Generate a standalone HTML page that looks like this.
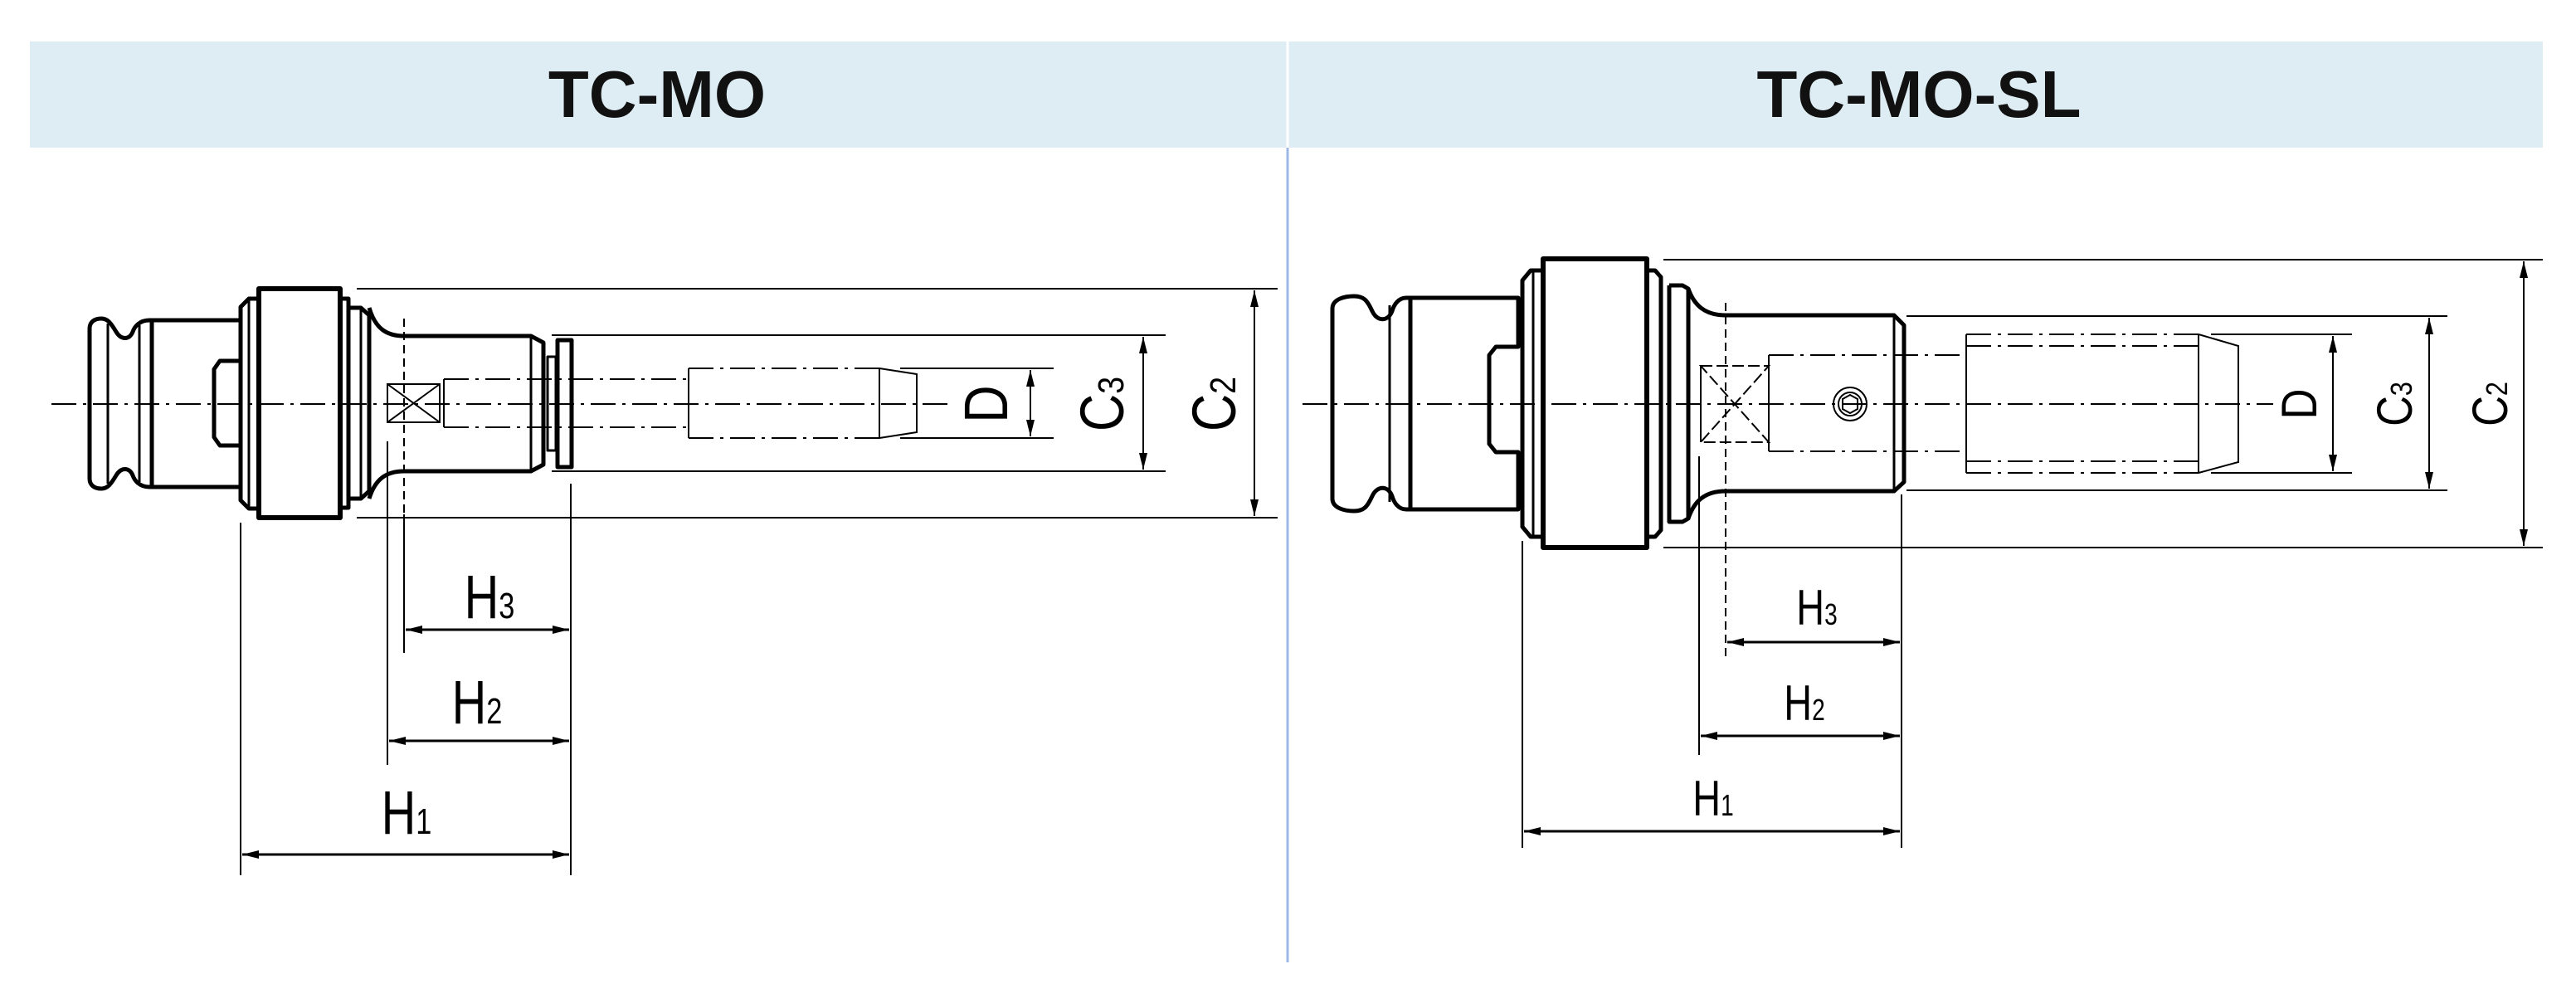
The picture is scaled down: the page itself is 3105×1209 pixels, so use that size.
<!DOCTYPE html>
<html><head><meta charset="utf-8"><style>
html,body{margin:0;padding:0;background:#fff;}
svg{display:block;}
text{font-family:"Liberation Sans Narrow","Liberation Sans",sans-serif;fill:#000;}
</style></head><body>
<svg width="3105" height="1209" viewBox="0 0 3105 1209" xmlns="http://www.w3.org/2000/svg">
<defs>
<marker id="a" viewBox="0 0 20 10" refX="20" refY="5" markerWidth="20" markerHeight="10" markerUnits="userSpaceOnUse" orient="auto-start-reverse"><path d="M0,0 L20,5 L0,10 z" fill="#000"/></marker>
</defs>
<rect x="36" y="50" width="3029" height="128" fill="#deedf4"/>
<line x1="1552" y1="50" x2="1552" y2="1160" stroke="#9db8e6" stroke-width="3"/>
<line x1="1552" y1="50" x2="1552" y2="178" stroke="#fff" stroke-width="3"/>
<text x="792" y="141" text-anchor="middle" style="font-family:'Liberation Sans',sans-serif;font-weight:bold;font-size:80px;fill:#111">TC-MO</text>
<text x="2313" y="141" text-anchor="middle" style="font-family:'Liberation Sans',sans-serif;font-weight:bold;font-size:80px;fill:#111">TC-MO-SL</text>

<!-- LEFT -->
<g fill="none" stroke="#000" stroke-width="5" stroke-linejoin="round">
<path d="M183,386 L180,386 C168,386 162,394 160,400 C156,410 146,410 140,400 C134,390 130,384 122,384 C114,384 108,388 108,396 L108,577 C108,585 114,589 122,589 C130,589 134,583 140,573 C146,563 156,563 160,573 C162,579 168,587 180,587 L183,587"/>
<line x1="130" y1="390" x2="130" y2="583" stroke-width="3"/>
<line x1="168" y1="392" x2="168" y2="581" stroke-width="3"/>
<path d="M183,386 L290,386 L290,435 L265,435 L258,445 L258,527 L265,537 L290,537 L290,587 L183,587 Z"/>
<line x1="183" y1="386" x2="183" y2="587"/>
<path d="M312,360 L300,360 L290,370 L290,603 L300,613 L312,613"/>
<line x1="300" y1="360" x2="300" y2="613" stroke-width="3"/>
<rect x="312" y="348" width="98" height="276" stroke-width="6"/>
<path d="M410,360 L420,360 L420,612 L410,612"/>
<path d="M420,371 L435,371 L445,380 L445,592 L435,601 L420,601"/>
<line x1="435" y1="371" x2="435" y2="601" stroke-width="3"/>
<path d="M445,371 C452,395 465,405 487,405 L640,405 L655,413 L655,560 L640,568 L487,568 C465,568 452,578 445,601"/>
<line x1="640" y1="405" x2="640" y2="568" stroke-width="3"/>
<rect x="672" y="410" width="17" height="153"/>
<rect x="660" y="430" width="10" height="113" stroke-width="3"/>
</g>
<g fill="none" stroke="#000" stroke-width="2">
<line x1="62" y1="487" x2="1150" y2="487" stroke-dasharray="30,8,4,8"/>
<rect x="467" y="463" width="63" height="46"/>
<line x1="467" y1="463" x2="530" y2="509"/><line x1="530" y1="463" x2="467" y2="509"/>
<line x1="487" y1="384" x2="487" y2="760" stroke-dasharray="10,6"/>
<line x1="487" y1="620" x2="487" y2="787"/>
<line x1="467" y1="532" x2="467" y2="922"/>
<line x1="535" y1="457" x2="535" y2="515"/>
<line x1="535" y1="457" x2="830" y2="457" stroke-dasharray="30,8,4,8"/>
<line x1="535" y1="515" x2="830" y2="515" stroke-dasharray="30,8,4,8"/>
<line x1="830" y1="444" x2="830" y2="528"/>
<line x1="830" y1="444" x2="1060" y2="444" stroke-dasharray="30,8,4,8"/>
<line x1="830" y1="528" x2="1060" y2="528" stroke-dasharray="30,8,4,8"/>
<line x1="1060" y1="444" x2="1060" y2="528"/>
<path d="M1060,444 L1105,451 L1105,521 L1060,528"/>
<line x1="1085" y1="444" x2="1270" y2="444"/><line x1="1085" y1="528" x2="1270" y2="528"/>
<line x1="1242" y1="446" x2="1242" y2="526" marker-start="url(#a)" marker-end="url(#a)"/>
<line x1="665" y1="404" x2="1405" y2="404"/><line x1="665" y1="568" x2="1405" y2="568"/>
<line x1="1378" y1="406" x2="1378" y2="566" marker-start="url(#a)" marker-end="url(#a)"/>
<line x1="430" y1="348" x2="1540" y2="348"/><line x1="430" y1="624" x2="1540" y2="624"/>
<line x1="1512" y1="350" x2="1512" y2="622" marker-start="url(#a)" marker-end="url(#a)"/>
<line x1="290" y1="630" x2="290" y2="1055"/>
<line x1="688" y1="583" x2="688" y2="1055"/>
<line x1="489" y1="759" x2="686" y2="759" stroke-width="3" marker-start="url(#a)" marker-end="url(#a)"/>
<line x1="469" y1="893" x2="686" y2="893" stroke-width="3" marker-start="url(#a)" marker-end="url(#a)"/>
<line x1="292" y1="1030" x2="686" y2="1030" stroke-width="3" marker-start="url(#a)" marker-end="url(#a)"/>
</g>
<g font-size="74">
<text transform="translate(590,745) scale(0.78,1)" text-anchor="middle">H<tspan font-size="44">3</tspan></text>
<text transform="translate(575,872) scale(0.78,1)" text-anchor="middle">H<tspan font-size="44">2</tspan></text>
<text transform="translate(490,1005) scale(0.78,1)" text-anchor="middle">H<tspan font-size="44">1</tspan></text>
<text transform="translate(1214,487) rotate(-90) scale(0.85,1)" text-anchor="middle">D</text>
<text transform="translate(1354,487) rotate(-90) scale(0.85,1)" text-anchor="middle">C<tspan font-size="44">3</tspan></text>
<text transform="translate(1489,487) rotate(-90) scale(0.85,1)" text-anchor="middle">C<tspan font-size="44">2</tspan></text>
</g>

<!-- RIGHT -->
<g fill="none" stroke="#000" stroke-width="5" stroke-linejoin="round">
<path d="M1700,359 L1695,359 C1685,359 1680,368 1678,375 C1673,388 1660,388 1654,375 C1648,362 1644,357 1632,357 C1622,357 1606,360 1606,372 L1606,601 C1606,613 1622,616 1632,616 C1644,616 1648,611 1654,598 C1660,585 1673,585 1678,598 C1680,605 1685,614 1695,614 L1700,614"/>
<line x1="1675" y1="368" x2="1675" y2="605" stroke-width="3"/>
<path d="M1700,359 L1830,359 L1830,418 L1803,418 L1795,428 L1795,535 L1803,545 L1830,545 L1830,614 L1700,614 Z"/>
<path d="M1860,326 L1845,326 L1835,338 L1835,635 L1845,647 L1860,647"/>
<line x1="1848" y1="326" x2="1848" y2="647" stroke-width="3"/>
<rect x="1860" y="312" width="125" height="348" stroke-width="6"/>
<path d="M1985,326 L1995,326 L2002,334 L2002,639 L1995,647 L1985,647"/>
<path d="M2012,344 L2028,344 L2035,348 L2035,625 L2028,629 L2012,629 L2012,344"/>
<path d="M2035,348 C2042,368 2055,380 2080,380 L2283,380 L2295,392 L2295,581 L2283,592 L2080,592 C2055,592 2042,604 2035,625"/>
</g>
<g fill="none" stroke="#000" stroke-width="2">
<line x1="1570" y1="487" x2="2740" y2="487" stroke-dasharray="30,8,4,8"/>
<line x1="2283" y1="380" x2="2283" y2="592" stroke-width="3"/>
<path d="M2050,441 L2132,441 L2050,533 L2132,533 Z" stroke-dasharray="14,5"/>
<line x1="2050" y1="441" x2="2050" y2="533"/>
<line x1="2132" y1="428" x2="2132" y2="544"/>
<line x1="2132" y1="428" x2="2370" y2="428" stroke-dasharray="30,8,4,8"/>
<line x1="2132" y1="544" x2="2370" y2="544" stroke-dasharray="30,8,4,8"/>
<circle cx="2230" cy="487" r="20"/><circle cx="2230" cy="487" r="14"/>
<path d="M2230,476 L2239,481 L2239,493 L2230,498 L2221,493 L2221,481 Z"/>
<line x1="2370" y1="403" x2="2370" y2="570"/>
<line x1="2370" y1="403" x2="2650" y2="403" stroke-dasharray="30,8,4,8"/>
<line x1="2370" y1="570" x2="2650" y2="570" stroke-dasharray="30,8,4,8"/>
<line x1="2370" y1="417" x2="2650" y2="417" stroke-dasharray="30,8,4,8"/>
<line x1="2370" y1="556" x2="2650" y2="556" stroke-dasharray="30,8,4,8"/>
<line x1="2650" y1="403" x2="2650" y2="570"/>
<path d="M2650,403 L2698,417 L2698,557 L2650,570"/>
<line x1="2665" y1="403" x2="2835" y2="403"/><line x1="2665" y1="570" x2="2835" y2="570"/>
<line x1="2812" y1="405" x2="2812" y2="568" marker-start="url(#a)" marker-end="url(#a)"/>
<line x1="2298" y1="381" x2="2950" y2="381"/><line x1="2298" y1="591" x2="2950" y2="591"/>
<line x1="2928" y1="383" x2="2928" y2="589" marker-start="url(#a)" marker-end="url(#a)"/>
<line x1="2005" y1="313" x2="3065" y2="313"/><line x1="2005" y1="660" x2="3065" y2="660"/>
<line x1="3042" y1="315" x2="3042" y2="658" marker-start="url(#a)" marker-end="url(#a)"/>
<line x1="1835" y1="652" x2="1835" y2="1022"/>
<line x1="2292" y1="596" x2="2292" y2="1022"/>
<line x1="2048" y1="550" x2="2048" y2="910"/>
<line x1="2080" y1="365" x2="2080" y2="795" stroke-dasharray="10,6"/>
<line x1="2082" y1="774" x2="2290" y2="774" stroke-width="3" marker-start="url(#a)" marker-end="url(#a)"/>
<line x1="2050" y1="887" x2="2290" y2="887" stroke-width="3" marker-start="url(#a)" marker-end="url(#a)"/>
<line x1="1837" y1="1002" x2="2290" y2="1002" stroke-width="3" marker-start="url(#a)" marker-end="url(#a)"/>
</g>
<g font-size="60">
<text transform="translate(2190,753) scale(0.78,1)" text-anchor="middle">H<tspan font-size="36">3</tspan></text>
<text transform="translate(2175,868) scale(0.78,1)" text-anchor="middle">H<tspan font-size="36">2</tspan></text>
<text transform="translate(2065,983) scale(0.78,1)" text-anchor="middle">H<tspan font-size="36">1</tspan></text>
<text transform="translate(2792,487) rotate(-90) scale(0.85,1)" text-anchor="middle">D</text>
<text transform="translate(2907,487) rotate(-90) scale(0.85,1)" text-anchor="middle">C<tspan font-size="36">3</tspan></text>
<text transform="translate(3022,487) rotate(-90) scale(0.85,1)" text-anchor="middle">C<tspan font-size="36">2</tspan></text>
</g>
</svg>
</body></html>
